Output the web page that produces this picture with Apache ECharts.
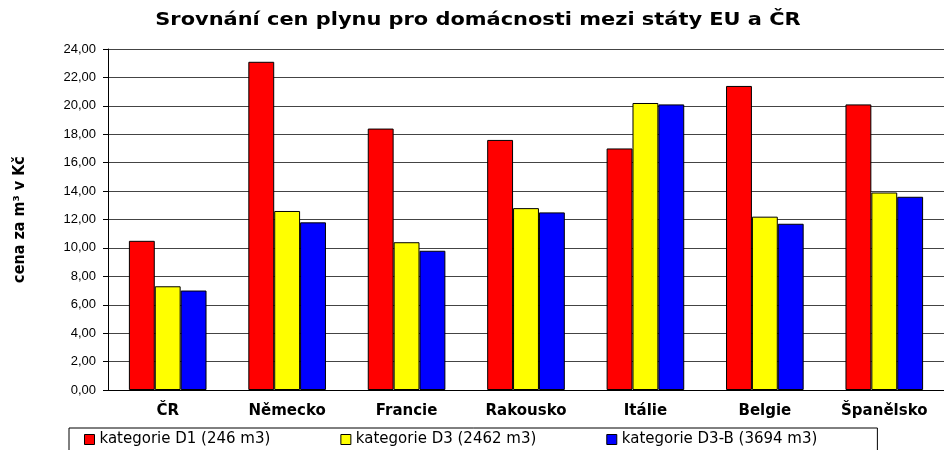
<!DOCTYPE html>
<html>
<head>
<meta charset="utf-8">
<script src="https://cdn.jsdelivr.net/npm/echarts@6/dist/echarts.min.js"></script>
<style>
  html, body { margin: 0; padding: 0; background: #fff; }
  #chart { width: 944px; height: 450px; }
</style>
</head>
<body>
<div id="chart"></div>
<script>
// kategorie (státy)
var categories = ['ČR', 'Německo', 'Francie', 'Rakousko', 'Itálie', 'Belgie', 'Španělsko'];

// ceny za m3 v Kč
var d1Values = [10.5, 23.1, 18.4, 17.6, 17.0, 21.4, 20.1];
var d3Values = [7.3, 12.6, 10.4, 12.8, 20.2, 12.2, 13.9];
var d3bValues = [7.0, 11.8, 9.8, 12.5, 20.1, 11.7, 13.6];

var seriesNames = ['kategorie D1 (246 m3)', 'kategorie D3 (2462 m3)', 'kategorie D3-B (3694 m3)'];
var seriesColors = ['#ff0000', '#ffff00', '#0000ff'];
var chartTitle = 'Srovnání cen plynu pro domácnosti mezi státy EU a ČR';

var chartDom = document.getElementById('chart');
var myChart = echarts.init(chartDom);

function makeSeries(i, data) {
    return {
        name: seriesNames[i],
        type: 'bar',
        data: data,
        barGap: '0%',
        barCategoryGap: '35%',
        itemStyle: {
            color: seriesColors[i],
            borderColor: '#000',
            borderWidth: 1
        }
    };
}

var option = {
    backgroundColor: '#fff',
    animation: false,
    // titulek je v originale roztazeny do sirky
    graphic: [{
        type: 'text',
        x: 478,
        y: 21,
        scaleX: 1.23,
        style: {
            text: chartTitle,
            font: 'bold 17px "DejaVu Sans"',
            fill: '#000',
            align: 'center',
            verticalAlign: 'middle'
        }
    }],
    legend: {
        left: 69,
        top: 428,
        data: seriesNames,
        itemWidth: 10,
        itemHeight: 10,
        itemGap: 70,
        padding: [4, 60, 10, 15],
        borderColor: '#000',
        borderWidth: 1,
        icon: 'rect',
        itemStyle: { borderColor: '#000', borderWidth: 1 },
        textStyle: {
            fontFamily: 'DejaVu Sans',
            fontSize: 15,
            color: '#000'
        }
    },
    grid: {
        left: 108,
        top: 49,
        width: 847,
        height: 341
    },
    xAxis: {
        type: 'category',
        data: categories,
        axisLine: { lineStyle: { color: '#000', width: 1 } },
        axisTick: { length: 5, lineStyle: { color: '#000' } },
        axisLabel: {
            margin: 14,
            fontFamily: 'DejaVu Sans',
            fontWeight: 'bold',
            fontSize: 15,
            color: '#000'
        }
    },
    yAxis: {
        type: 'value',
        min: 0,
        max: 24,
        interval: 2,
        name: 'cena za m³ v Kč',
        nameLocation: 'middle',
        nameRotate: 90,
        nameGap: 80,
        nameTextStyle: {
            fontFamily: '"DejaVu Sans Condensed", "Liberation Sans", sans-serif',
            fontWeight: 'bold',
            fontSize: 16,
            color: '#000'
        },
        axisLine: { show: true, lineStyle: { color: '#000', width: 1 } },
        axisTick: { show: true, length: 5, lineStyle: { color: '#000' } },
        axisLabel: {
            margin: 12,
            fontFamily: 'Liberation Sans',
            fontSize: 13,
            color: '#000',
            formatter: function (v) { return v.toFixed(2).replace('.', ','); }
        },
        splitLine: { lineStyle: { color: '#444', width: 1 } }
    },
    series: [
        makeSeries(0, d1Values),
        makeSeries(1, d3Values),
        makeSeries(2, d3bValues)
    ]
};

myChart.setOption(option);
</script>
</body>
</html>
